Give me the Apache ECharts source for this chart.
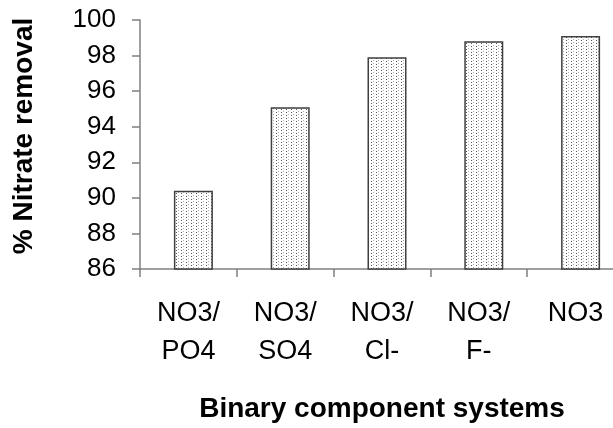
<!DOCTYPE html>
<html>
<head>
<meta charset="utf-8">
<script src="https://cdn.jsdelivr.net/npm/echarts@6/dist/echarts.min.js"></script>
<style>
html,body{margin:0;padding:0;background:#fff;overflow:hidden;width:613px;height:428px;}
#c{width:624px;height:428px;}
</style>
</head>
<body>
<div id="c"></div>
<script>
var categories = ['NO3/\nPO4', 'NO3/\nSO4', 'NO3/\nCl-', 'NO3/\nF-', 'NO3'];
var removal = [90.4, 95.1, 97.9, 98.8, 99.1];
var yTicks = [86, 88, 90, 92, 94, 96, 98, 100];

var tile = document.createElement('canvas');
tile.width = 5; tile.height = 3;
var g = tile.getContext('2d');
g.fillStyle = '#ffffff'; g.fillRect(0, 0, 5, 3);
g.fillStyle = '#555555'; g.fillRect(1, 1, 1, 1);
g.fillStyle = '#b0b0b0'; g.fillRect(3, 0, 1, 1);

var chart = echarts.init(document.getElementById('c'), null, {renderer: 'canvas'});
chart.setOption({
  animation: false,
  backgroundColor: '#ffffff',
  grid: {left: 140, right: 0, top: 20, height: 250, containLabel: false},
  xAxis: {
    type: 'category',
    data: categories,
    name: 'Binary component systems',
    nameLocation: 'middle',
    nameGap: 126,
    nameTextStyle: {fontFamily: 'Liberation Sans', fontWeight: 'bold', fontSize: 28, color: '#000'},
    axisLine: {lineStyle: {color: '#808080', width: 1.5}},
    axisTick: {show: true, inside: false, length: 8, alignWithLabel: false, lineStyle: {color: '#808080', width: 1.5}},
    axisLabel: {fontFamily: 'Liberation Sans', fontSize: 27, color: '#000', margin: 26, lineHeight: 38, interval: 0}
  },
  yAxis: {
    type: 'value',
    min: 86, max: 100, interval: 2,
    name: '% Nitrate removal',
    nameLocation: 'middle',
    nameGap: 102,
    nameRotate: 90,
    nameTextStyle: {fontFamily: 'Liberation Sans', fontWeight: 'bold', fontSize: 28, color: '#000', padding: [0, 0, 0, 17]},
    splitLine: {show: false},
    axisLine: {show: true, lineStyle: {color: '#808080', width: 1.5}},
    axisTick: {show: true, length: 8, lineStyle: {color: '#808080', width: 1.5}},
    axisLabel: {fontFamily: 'Liberation Sans', fontSize: 26, color: '#000', margin: 24,
      formatter: function (v) { return yTicks.indexOf(v) >= 0 ? String(v) : ''; }}
  },
  series: [{
    type: 'bar',
    data: [],
    barWidth: 10,
    barGap: '0%',
    silent: true,
    itemStyle: {color: 'rgba(0,0,0,0)'}
  }, {
    type: 'bar',
    data: removal,
    barWidth: 39,
    barGap: '0%',
    itemStyle: {color: {image: tile, repeat: 'repeat'}, borderColor: '#404040', borderWidth: 1.5}
  }]
});
</script>
</body>
</html>
